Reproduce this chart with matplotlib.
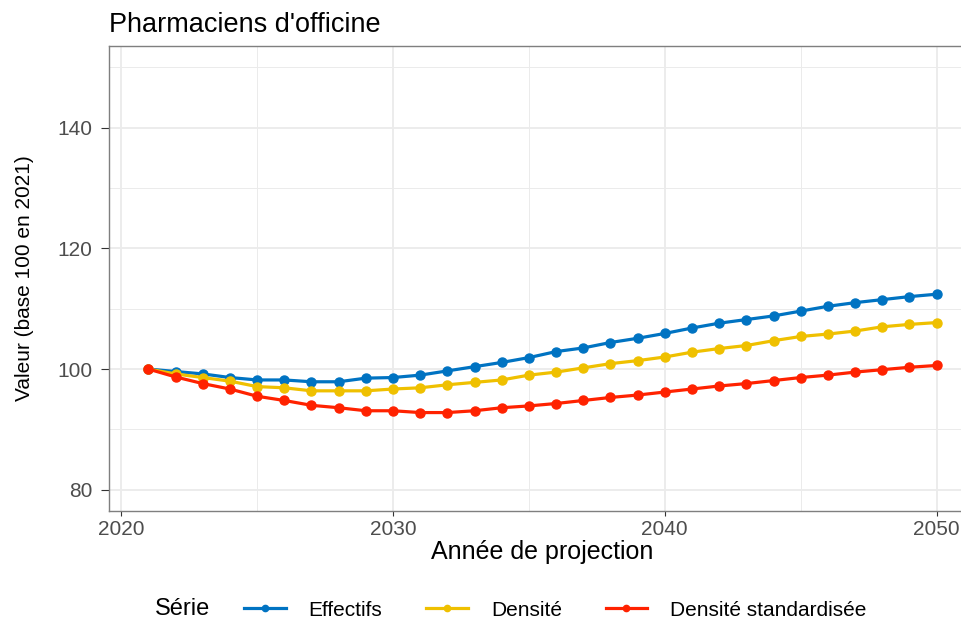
import matplotlib.pyplot as plt
import numpy as np
from matplotlib.lines import Line2D

years = np.arange(2021, 2051)

effectifs = [100.0, 99.6, 99.2, 98.6, 98.2, 98.2, 97.9, 97.9, 98.5, 98.6,
             99.0, 99.7, 100.4, 101.1, 101.9, 102.9, 103.5, 104.4, 105.1, 105.9,
             106.8, 107.6, 108.2, 108.8, 109.6, 110.4, 111.0, 111.5, 112.0, 112.4]
densite = [100.0, 99.2, 98.6, 98.0, 97.1, 96.9, 96.4, 96.4, 96.4, 96.7,
           96.9, 97.4, 97.8, 98.2, 99.0, 99.5, 100.2, 100.9, 101.4, 102.0,
           102.8, 103.4, 103.9, 104.7, 105.4, 105.8, 106.3, 107.0, 107.4, 107.7]
densite_std = [100.0, 98.7, 97.6, 96.7, 95.5, 94.8, 94.0, 93.6, 93.1, 93.1,
               92.8, 92.8, 93.1, 93.6, 93.9, 94.3, 94.8, 95.3, 95.7, 96.2,
               96.7, 97.2, 97.6, 98.1, 98.6, 99.0, 99.5, 99.9, 100.3, 100.6]

series_names = ["Effectifs", "Densité", "Densité standardisée"]
colors = ["#0073C2", "#EFC000", "#FF2200"]


def main():
    plt.rcParams['font.family'] = ['Liberation Sans', 'DejaVu Sans']

    fig = plt.figure(figsize=(9.62, 6.23), dpi=100)
    W, H = 962, 623
    # panel runs past the right edge, like the cropped reference
    ax = fig.add_axes([109 / W, 1 - 511 / H, (976 - 109) / W, (511 - 46) / H])

    for vals, col in zip([effectifs, densite, densite_std], colors):
        ax.plot(years, vals, color=col, linewidth=2.3, marker='o', markersize=6.5, zorder=3)

    ax.set_xlim(2019.55, 2051.45)
    ax.set_ylim(76.5, 153.5)
    ax.set_xticks([2020, 2030, 2040, 2050])
    ax.set_yticks([80, 100, 120, 140])
    ax.set_xticks([2025, 2035, 2045], minor=True)
    ax.set_yticks([90, 110, 130, 150], minor=True)
    ax.grid(True, which='major', color='#EBEBEB', linewidth=1.3, zorder=0)
    ax.grid(True, which='minor', color='#EBEBEB', linewidth=0.7, zorder=0)
    ax.set_axisbelow(True)
    for side in ax.spines.values():
        side.set_color('#7F7F7F')
        side.set_linewidth(1.0)
    ax.tick_params(which='major', color='#333333', labelsize=15, labelcolor='#4D4D4D')
    ax.tick_params(axis='x', which='major', length=3.5, pad=3)
    ax.tick_params(axis='y', which='major', length=6, pad=6)
    ax.tick_params(which='minor', length=0)

    ax.set_xlabel("Année de projection", fontsize=18)
    ax.xaxis.set_label_coords(0.5, -0.062)
    ax.set_ylabel("Valeur (base 100 en 2021)", fontsize=15)
    ax.yaxis.set_label_coords(-0.087, 0.5)
    fig.text(109 / W, 1 - 25 / H, "Pharmaciens d'officine", fontsize=19.5,
             ha='left', va='center')

    # legend at the bottom, title on the same row as the keys
    fig.text(155 / W, 1 - 609 / H, "Série", fontsize=17, ha='left', va='center')
    handles = [Line2D([0], [0], color=c, linewidth=2.3, marker='o', markersize=4.5)
               for c in colors]
    fig.legend(handles, series_names, loc='center left',
               bbox_to_anchor=(240 / W, 1 - 610 / H),
               ncol=3, frameon=False, fontsize=15, borderpad=0.2, borderaxespad=0,
               handlelength=2.0, columnspacing=2.1, handletextpad=1.1)

    plt.savefig('out.png', dpi=100)


if __name__ == "__main__":
    main()
